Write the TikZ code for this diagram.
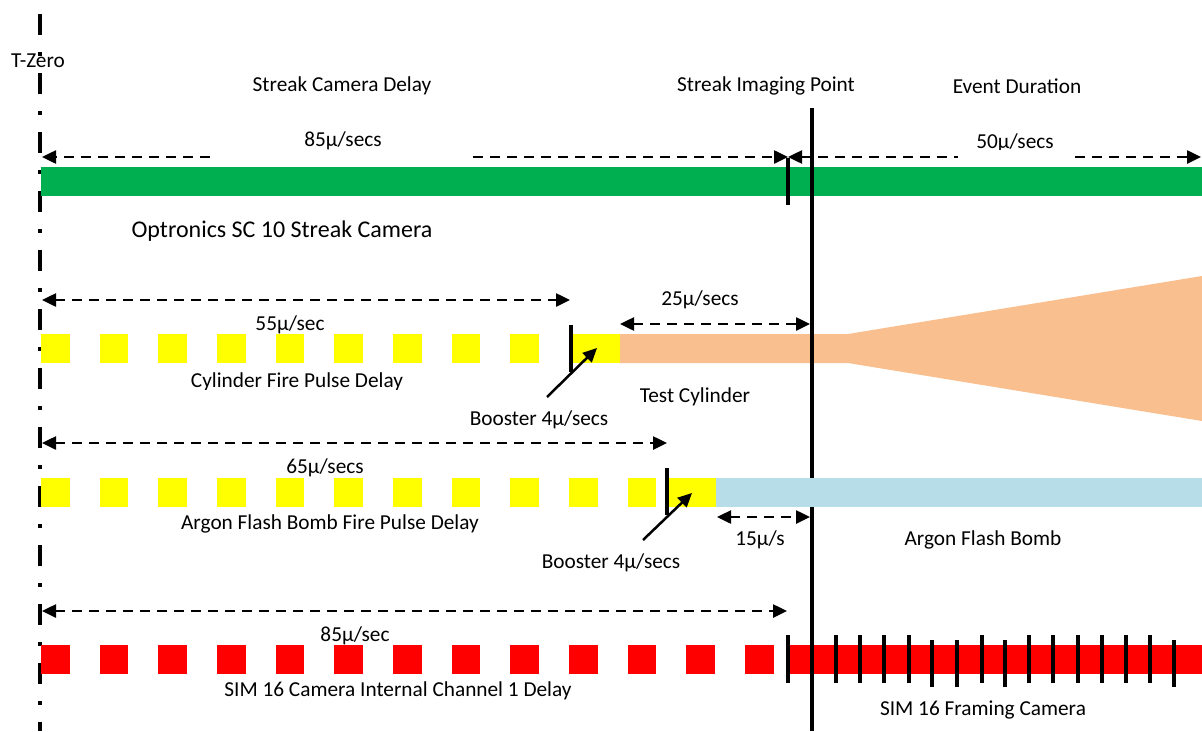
\documentclass[tikz,border=0pt]{standalone}
\usepackage{fontspec}
\setmainfont{Carlito}
\usetikzlibrary{arrows.meta}
\definecolor{grn}{HTML}{00B050}
\definecolor{ylw}{HTML}{FFFF00}
\definecolor{org}{HTML}{F9BF8F}
\definecolor{lblue}{HTML}{B7DEE8}
\definecolor{rd}{HTML}{FF0000}
\begin{document}
\begin{tikzpicture}[x=1pt,y=-1pt,
  lbl/.style={inner sep=0pt, font=\fontsize{21.3}{24}\selectfont},
  biglbl/.style={inner sep=0pt, font=\fontsize{24}{27}\selectfont},
  dim/.style={line width=2.5pt, dash pattern=on 10pt off 7pt},
  tipr/.style={dim,-{Triangle[length=14pt,width=13pt]}},
  tipl/.style={dim,{Triangle[length=14pt,width=13pt]}-},
  tipb/.style={dim,{Triangle[length=14pt,width=13pt]}-{Triangle[length=14pt,width=13pt]}},
  solidarr/.style={line width=2.5pt,-{Triangle[length=14pt,width=13pt]}},
  thick4/.style={line width=4pt},
  tzline/.style={line width=4pt, dash pattern=on 21pt off 17pt on 4pt off 17pt}]
\useasboundingbox (0,0) rectangle (1202,731);

% T-Zero line
\coordinate (tzt) at (40,14);
\coordinate (tzb) at (40,731);
\draw[tzline] (tzt) -- (tzb);

% Green bar
\fill[grn] (41,167) rectangle (1202,196);

% Orange test cylinder
\fill[org] (620,334) -- (848,334) -- (1202,276) -- (1202,421) -- (848,363) -- (620,363) -- cycle;

% Yellow row 2
\foreach \k in {0,...,8} \fill[ylw] ({41+58.67*\k},334) rectangle +(28.5,29);
\fill[ylw] (573,334) rectangle (620,363);
% Yellow row 3
\foreach \k in {0,...,10} \fill[ylw] ({41+58.67*\k},478) rectangle +(28.5,29);
\fill[ylw] (669,478) rectangle (716,507);
% Red row 4
\foreach \k in {0,...,12} \fill[rd] ({41+58.67*\k},645) rectangle +(28.5,28.5);
\fill[rd] (790,645) rectangle (1202,673.5);

% Streak imaging line
\coordinate (sit) at (812,108);
\coordinate (sib) at (812,731);
\draw[thick4] (sit) -- (sib);

% Blue argon bar (on top)
\fill[lblue] (716,478) rectangle (1202,507);

% Ticks
\coordinate (t1a) at (788,158); \coordinate (t1b) at (788,205);
\draw[thick4] (t1a) -- (t1b);
\coordinate (t2a) at (571,325); \coordinate (t2b) at (571,372);
\draw[thick4] (t2a) -- (t2b);
\coordinate (t3a) at (667,468); \coordinate (t3b) at (667,515);
\draw[thick4] (t3a) -- (t3b);
\coordinate (t4a) at (788,635); \coordinate (t4b) at (788,683);
\draw[thick4] (t4a) -- (t4b);
\foreach \x/\a/\b in {836/635/683, 860/635/683, 884/635/683, 909/635/683, 932/640/687,
  957/640/687, 982/635/683, 1005/640/687, 1029/635/683, 1053/635/683, 1078/635/683,
  1102/635/683, 1126/635/683, 1150/635/683, 1174/640/687}
  \draw[thick4] (\x,\a) -- (\x,\b);

% Row 1 dimension arrows
\coordinate (r1a) at (210,157); \coordinate (r1z) at (42,157);
\coordinate (r1b) at (473,157); \coordinate (r1c) at (788,157);
\coordinate (r1d) at (958,157); \coordinate (r1e) at (1075,157);
\coordinate (r1f) at (1201,157);
\draw[tipr] (r1a) -- (r1z);
\draw[tipr] (r1b) -- (r1c);
\draw[tipl] (r1c) -- (r1d);
\draw[tipr] (r1e) -- (r1f);

% Row 2 arrows
\coordinate (r2a) at (42,300); \coordinate (r2b) at (570,300);
\draw[tipb] (r2a) -- (r2b);
\coordinate (r2c) at (620,324); \coordinate (r2d) at (810,324);
\draw[tipb] (r2c) -- (r2d);
\coordinate (b2s) at (547,397); \coordinate (b2e) at (597,348);
\draw[solidarr] (b2s) -- (b2e);

% Row 3 arrows
\coordinate (r3a) at (42,443); \coordinate (r3b) at (667,443);
\draw[tipb] (r3a) -- (r3b);
\coordinate (r3c) at (717,517); \coordinate (r3d) at (810,517);
\draw[tipb] (r3c) -- (r3d);
\coordinate (b3s) at (643,540); \coordinate (b3e) at (692,493);
\draw[solidarr] (b3s) -- (b3e);

% Row 4 arrow
\coordinate (r4a) at (42,611); \coordinate (r4b) at (787,611);
\draw[tipb] (r4a) -- (r4b);

% Labels
\node[lbl] (tz) at (38,61) {T-Zero};
\node[lbl] (scd) at (342,86) {Streak Camera Delay};
\node[lbl] (sip) at (766,86) {Streak Imaging Point};
\node[lbl] (ed) at (1017,86) {Event Duration};
\node[lbl] (d85a) at (343,141) {85µ/secs};
\begin{scope}
\clip (940,120) rectangle (1100,149);
\node[lbl] (d50) at (1015,143) {50µ/secs};
\end{scope}
\node[biglbl] (opt) at (282,231) {Optronics SC 10 Streak Camera};
\node[lbl] (d55) at (290,325) {55µ/sec};
\begin{scope}
\clip (150,360) rectangle (450,389);
\node[lbl] (cfp) at (297,382) {Cylinder Fire Pulse Delay};
\end{scope}
\node[lbl] (d25) at (700,300) {25µ/secs};
\node[lbl] (tc) at (695,397) {Test Cylinder};
\node[lbl] (bo1) at (539,420) {Booster 4µ/secs};
\node[lbl] (d65) at (325,468) {65µ/secs};
\node[lbl] (afp) at (330,524) {Argon Flash Bomb Fire Pulse Delay};
\node[lbl] (bo2) at (611,563) {Booster 4µ/secs};
\node[lbl] (d15) at (760,540) {15µ/s};
\node[lbl] (afb) at (983,540) {Argon Flash Bomb};
\node[lbl] (d85b) at (355,636) {85µ/sec};
\node[lbl] (sim1) at (398,691) {SIM 16 Camera Internal Channel 1 Delay};
\node[lbl] (sim2) at (983,710) {SIM 16 Framing Camera};
\end{tikzpicture}
\end{document}
